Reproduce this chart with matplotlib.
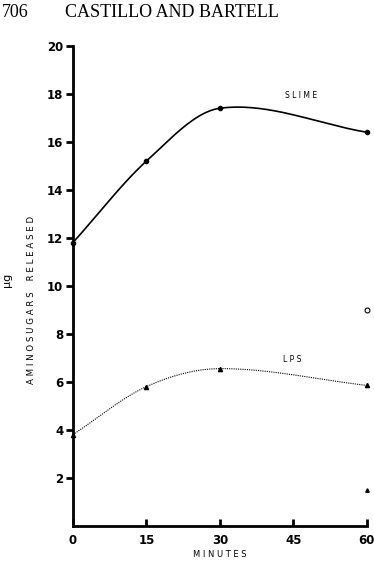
import numpy as np
import matplotlib
matplotlib.use('Agg')
import matplotlib.pyplot as plt

# ----------------------------------
# Data
# ----------------------------------

minutes = [0, 15, 30, 60]
slime = [11.8, 15.2, 17.4, 16.4]
lps = [3.8, 5.8, 6.55, 5.85]

# lone points at 60 minutes
open_pt = [60, 9.0]
tri_pt = [60, 1.5]

x_ticks = [0, 15, 30, 45, 60]
y_ticks = [2, 4, 6, 8, 10, 12, 14, 16, 18, 20]


def smooth(xs, ys, n=60):
    # hand-drawn look: cubic Hermite pieces, Catmull-Rom style tangents
    xs = np.asarray(xs, float)
    ys = np.asarray(ys, float)
    m = np.empty_like(ys)
    m[0] = (ys[1] - ys[0]) / (xs[1] - xs[0])
    m[-1] = (ys[-1] - ys[-2]) / (xs[-1] - xs[-2])
    m[1:-1] = (ys[2:] - ys[:-2]) / (xs[2:] - xs[:-2])
    out_x, out_y = [], []
    for i in range(len(xs) - 1):
        h = xs[i + 1] - xs[i]
        t = np.linspace(0, 1, n)
        h00 = 2 * t**3 - 3 * t**2 + 1
        h10 = t**3 - 2 * t**2 + t
        h01 = -2 * t**3 + 3 * t**2
        h11 = t**3 - t**2
        out_x.append(xs[i] + t * h)
        out_y.append(h00 * ys[i] + h10 * h * m[i] + h01 * ys[i + 1] + h11 * h * m[i + 1])
    return np.concatenate(out_x), np.concatenate(out_y)


fig = plt.figure(figsize=(3.74, 5.66), dpi=100)
ax = fig.add_axes([0.195, 0.071, 0.786, 0.848])

xs, ys = smooth(minutes, slime)
ax.plot(xs, ys, color='black', lw=1.2, clip_on=False)
ax.plot(minutes, slime, 'o', color='black', ms=3, clip_on=False)

xs, ys = smooth(minutes, lps)
ax.plot(xs, ys, color='black', lw=0.8, ls=(0, (1, 1)), clip_on=False)
ax.plot(minutes, lps, '^', color='black', ms=3, clip_on=False)

ax.plot(open_pt[0], open_pt[1], 'o', mfc='white', mec='black', ms=3.5, mew=0.8, clip_on=False)
ax.plot(tri_pt[0], tri_pt[1], '^', color='black', ms=2.5, clip_on=False)

ax.text(46.5, 17.75, 'S L I M E', fontsize=5.5, ha='center', va='bottom')
ax.text(44.8, 6.75, 'L P S', fontsize=5.5, ha='center', va='bottom')

ax.set_xlim(0, 60)
ax.set_ylim(0, 20)
ax.spines['top'].set_visible(False)
ax.spines['right'].set_visible(False)
ax.spines['left'].set_linewidth(2)
ax.spines['bottom'].set_linewidth(2)

ax.set_yticks(y_ticks)
ax.set_yticklabels([str(v) for v in y_ticks], fontsize=8.5, fontweight='bold')
ax.tick_params(axis='y', direction='out', length=5, width=2, pad=2)
ax.set_xticks(x_ticks)
ax.set_xticklabels([str(v) for v in x_ticks], fontsize=8.5, fontweight='bold')
ax.tick_params(axis='x', direction='in', length=5, width=2, pad=6)

ax.set_xlabel('M I N U T E S', fontsize=6, labelpad=2)

fig.text(0.085, 0.47, 'A M I N O S U G A R S    R E L E A S E D', rotation=90,
         fontsize=6.2, ha='center', va='center')
fig.text(0.02, 0.505, 'µg', rotation=90, fontsize=8, ha='center', va='center')

# page header
fig.text(0.005, 0.978, '706', fontsize=13, family='Liberation Serif', va='center')
fig.text(0.175, 0.978, 'CASTILLO AND BARTELL', fontsize=13, family='Liberation Serif',
         va='center')

fig.savefig('out.png', dpi=100)
